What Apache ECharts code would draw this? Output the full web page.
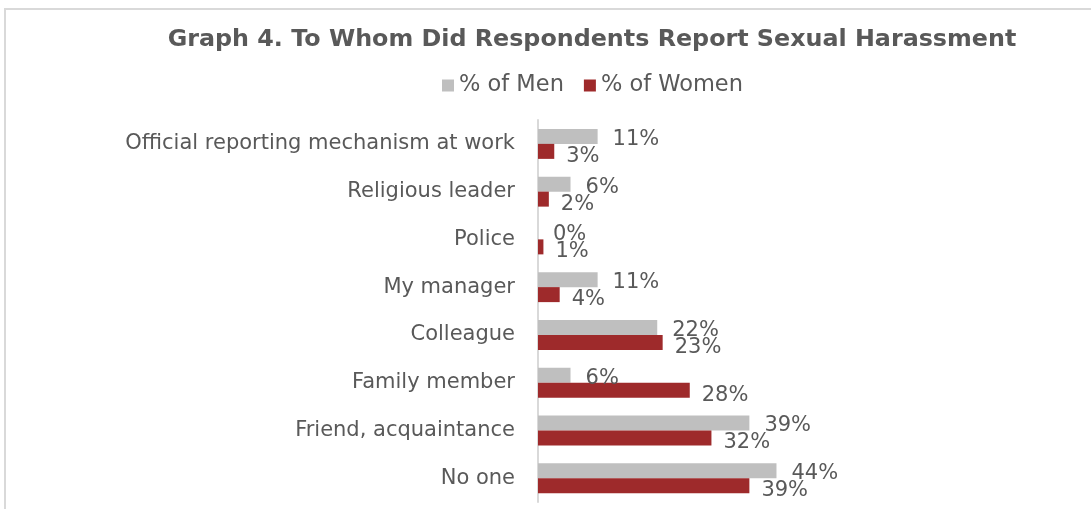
<!DOCTYPE html>
<html>
<head>
<meta charset="utf-8">
<style>
  html, body { margin: 0; padding: 0; background: #ffffff; overflow: hidden; }
  #chart { width: 1091px; height: 509px; }
</style>
<script src="https://cdn.jsdelivr.net/npm/echarts@6/dist/echarts.min.js"></script>
</head>
<body>
<div id="chart"></div>
<script>
// Who respondents reported sexual harassment to, by gender (percent)
const categories = [
  'Official reporting mechanism at work',
  'Religious leader',
  'Police',
  'My manager',
  'Colleague',
  'Family member',
  'Friend, acquaintance',
  'No one'
];
const menPct = [11, 6, 0, 11, 22, 6, 39, 44];
const womenPct = [3, 2, 1, 4, 23, 28, 32, 39];
const seriesNames = ['% of Men', '% of Women'];

const TEXT = '#595959';
const FONT = '"DejaVu Sans", Verdana, sans-serif';

const chart = echarts.init(document.getElementById('chart'), null, { renderer: 'canvas' });

function labelFor(offsetY, distance) {
  return {
    show: true,
    position: 'right',
    distance: distance,
    offset: [0, offsetY],
    color: TEXT,
    fontFamily: FONT,
    fontSize: 21,
    formatter: p => p.value + '%'
  };
}

chart.setOption({
  animation: false,
  backgroundColor: '#ffffff',
  title: {
    text: 'Graph 4. To Whom Did Respondents Report Sexual Harassment',
    left: 587,
    textAlign: 'center',
    top: 23,
    textStyle: { color: TEXT, fontFamily: FONT, fontWeight: 'bold', fontSize: 23.8 }
  },
  legend: {
    data: seriesNames,
    left: 437,
    top: 69,
    itemWidth: 12,
    itemHeight: 12,
    itemGap: 20,
    icon: 'rect',
    textStyle: { color: TEXT, fontFamily: FONT, fontSize: 22.5 }
  },
  graphic: [{
    type: 'rect',
    shape: { x: 5, y: 9, width: 1200, height: 700 },
    style: { fill: 'none', stroke: '#d9d9d9', lineWidth: 2 },
    silent: true,
    z: -1
  }],
  grid: { left: 538, top: 120, width: 271, height: 382 },
  xAxis: {
    type: 'value',
    min: 0,
    max: 50,
    show: false
  },
  yAxis: {
    type: 'category',
    data: categories,
    inverse: true,
    axisLine: { show: true, lineStyle: { color: '#d9d9d9', width: 2 } },
    axisTick: { show: false },
    axisLabel: { color: TEXT, fontFamily: FONT, fontSize: 21, margin: 23 }
  },
  series: [
    {
      name: seriesNames[0],
      type: 'bar',
      data: menPct,
      barWidth: 15,
      barGap: '0%',
      itemStyle: { color: '#bfbfbf' },
      label: labelFor(3, 15)
    },
    {
      name: seriesNames[1],
      type: 'bar',
      data: womenPct,
      barWidth: 15,
      itemStyle: { color: '#9e2a2b' },
      label: labelFor(5, 12)
    }
  ]
});
</script>
</body>
</html>
